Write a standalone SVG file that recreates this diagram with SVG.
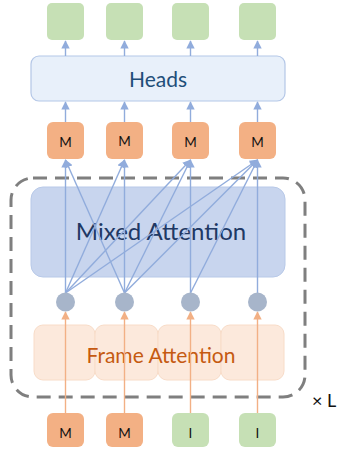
<svg xmlns="http://www.w3.org/2000/svg" width="346" height="455" viewBox="0 0 346 455">
<style>
.green{fill:#C6E0B5;}
.orange{fill:#F3B084;}
.lbl{font-family:Lato,"Liberation Sans",sans-serif;font-size:13.5px;fill:#111;text-anchor:middle;}
.big{font-family:Lato,"Liberation Sans",sans-serif;text-anchor:middle;}
.blue{stroke:#91ACDC;stroke-width:1.4;fill:none;}
.org{stroke:#F2B085;stroke-width:1.4;fill:none;}
.fa{fill:#FCE9DC;stroke:#F8DCC8;stroke-width:1;}
</style>
<defs>
<marker id="ab" viewBox="0 0 10 10" refX="9" refY="5" markerWidth="6" markerHeight="6" orient="auto"><path d="M0,0 L10,5 L0,10 z" fill="#91ACDC"/></marker>
<marker id="ao" viewBox="0 0 10 10" refX="9" refY="5" markerWidth="6" markerHeight="6" orient="auto"><path d="M0,0 L10,5 L0,10 z" fill="#F2B085"/></marker>
</defs>
<rect width="346" height="455" fill="#fff"/>
<g id="outputs">
<rect class="green" x="47" y="3" width="37" height="37" rx="5"/>
<rect class="green" x="106" y="3" width="37" height="37" rx="5"/>
<rect class="green" x="172" y="3" width="37" height="37" rx="5"/>
<rect class="green" x="239" y="3" width="37" height="37" rx="5"/>
</g>
<g id="heads">
<rect x="31" y="56" width="254" height="45" rx="8" fill="#E8F0FA" stroke="#B4C7E7" stroke-width="1.2"/>
<text class="big" x="158" y="87" font-size="21" fill="#1F4E79">Heads</text>
</g>
<g id="loop">
<rect x="11" y="178" width="294" height="219" rx="22" fill="none" stroke="#7F7F7F" stroke-width="3" stroke-dasharray="14 8"/>
<text x="312" y="407" font-family="Lato, Liberation Sans, sans-serif" font-size="18" fill="#111">× L</text>
</g>
<g id="mixed-attention">
<rect x="31" y="187" width="254" height="90" rx="12" fill="#C8D5EE" stroke="#B8C9E8" stroke-width="1"/>
<text class="big" x="161" y="240" font-size="24" fill="#203864">Mixed Attention</text>
</g>
<g id="frame-attention">
<rect class="fa" x="34" y="325" width="61" height="55" rx="9"/>
<rect class="fa" x="95" y="325" width="63" height="55" rx="9"/>
<rect class="fa" x="158" y="325" width="63" height="55" rx="9"/>
<rect class="fa" x="221" y="325" width="63" height="55" rx="9"/>
<text class="big" x="161" y="363" font-size="21" fill="#C55A11">Frame Attention</text>
</g>
<g id="connectors">
<line class="blue" x1="65.5" y1="56" x2="65.5" y2="41" marker-end="url(#ab)"/>
<line class="blue" x1="124.5" y1="56" x2="124.5" y2="41" marker-end="url(#ab)"/>
<line class="blue" x1="190.5" y1="56" x2="190.5" y2="41" marker-end="url(#ab)"/>
<line class="blue" x1="257.5" y1="56" x2="257.5" y2="41" marker-end="url(#ab)"/>
<line class="blue" x1="65.5" y1="122" x2="65.5" y2="102" marker-end="url(#ab)"/>
<line class="blue" x1="124.5" y1="122" x2="124.5" y2="102" marker-end="url(#ab)"/>
<line class="blue" x1="190.5" y1="122" x2="190.5" y2="102" marker-end="url(#ab)"/>
<line class="blue" x1="257.5" y1="122" x2="257.5" y2="102" marker-end="url(#ab)"/>
<line class="blue" x1="65.5" y1="293" x2="65.5" y2="160" marker-end="url(#ab)"/>
<line class="blue" x1="65.5" y1="293" x2="124.5" y2="160" marker-end="url(#ab)"/>
<line class="blue" x1="65.5" y1="293" x2="190.5" y2="160" marker-end="url(#ab)"/>
<line class="blue" x1="65.5" y1="293" x2="257.5" y2="160" marker-end="url(#ab)"/>
<line class="blue" x1="124.5" y1="293" x2="65.5" y2="160" marker-end="url(#ab)"/>
<line class="blue" x1="124.5" y1="293" x2="124.5" y2="160" marker-end="url(#ab)"/>
<line class="blue" x1="124.5" y1="293" x2="190.5" y2="160" marker-end="url(#ab)"/>
<line class="blue" x1="124.5" y1="293" x2="257.5" y2="160" marker-end="url(#ab)"/>
<line class="blue" x1="190.5" y1="293" x2="190.5" y2="160" marker-end="url(#ab)"/>
<line class="blue" x1="190.5" y1="293" x2="257.5" y2="160" marker-end="url(#ab)"/>
<line class="blue" x1="257.5" y1="293" x2="257.5" y2="160" marker-end="url(#ab)"/>
<line class="org" x1="65.5" y1="413" x2="65.5" y2="312" marker-end="url(#ao)"/>
<line class="org" x1="124.5" y1="413" x2="124.5" y2="312" marker-end="url(#ao)"/>
<line class="org" x1="190.5" y1="413" x2="190.5" y2="312" marker-end="url(#ao)"/>
<line class="org" x1="257.5" y1="413" x2="257.5" y2="312" marker-end="url(#ao)"/>
</g>
<g id="tokens">
<circle cx="65.5" cy="302" r="9.5" fill="#A7B5CA"/>
<circle cx="124.5" cy="302" r="9.5" fill="#A7B5CA"/>
<circle cx="190.5" cy="302" r="9.5" fill="#A7B5CA"/>
<circle cx="257.5" cy="302" r="9.5" fill="#A7B5CA"/>
</g>
<g id="mid-m">
<rect class="orange" x="47" y="122" width="37" height="37" rx="6"/>
<rect class="orange" x="106" y="122" width="37" height="37" rx="6"/>
<rect class="orange" x="172" y="122" width="37" height="37" rx="6"/>
<rect class="orange" x="239" y="122" width="37" height="37" rx="6"/>
<text class="lbl" x="65.5" y="147">M</text>
<text class="lbl" x="124.5" y="146">M</text>
<text class="lbl" x="190.5" y="147">M</text>
<text class="lbl" x="257.5" y="147">M</text>
</g>
<g id="inputs">
<rect class="orange" x="47" y="413" width="37" height="34" rx="6"/>
<rect class="orange" x="106" y="413" width="37" height="34" rx="6"/>
<rect class="green" x="172" y="413" width="37" height="34" rx="6"/>
<rect class="green" x="239" y="413" width="37" height="34" rx="6"/>
<text class="lbl" x="65.5" y="438">M</text>
<text class="lbl" x="124.5" y="438">M</text>
<text class="lbl" x="190.5" y="438">I</text>
<text class="lbl" x="257.5" y="438">I</text>
</g>
</svg>
